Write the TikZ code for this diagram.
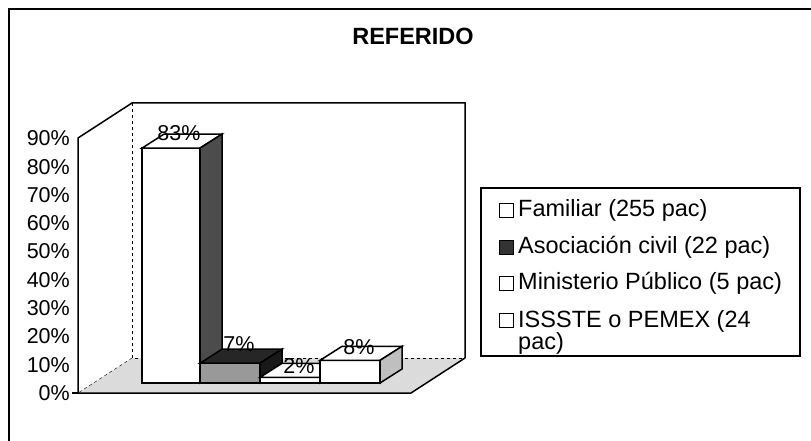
\documentclass[tikz,border=0pt]{standalone}
\usepackage{fontspec}
\setmainfont{Liberation Sans}
\usetikzlibrary{calc}

\tikzset{
  ylab/.style={anchor=east, inner sep=0pt, font=\fontsize{21.5}{24}\selectfont},
  vallab/.style={inner sep=0pt, font=\fontsize{21.5}{24}\selectfont},
  leglab/.style={anchor=west, inner sep=0pt, align=left, font=\fontsize{23.5}{22}\selectfont},
  legmark/.style={draw, line width=1pt, minimum size=14pt, inner sep=0pt},
  edge/.style={line width=1.5pt}
}

% one 3d column: left x, right x, percent, front fill, top fill, side fill
\newcommand{\drawcolumn}[6]{%
  \coordinate (fl) at (#1,383);
  \coordinate (fr) at (#2,383);
  \coordinate (tl) at ($(fl)+(0,-#3*2.83)$);
  \coordinate (tr) at ($(fr)+(0,-#3*2.83)$);
  \filldraw[edge, fill=#4] (fl) rectangle (tr);
  \filldraw[edge, fill=#5] (tl) -- ++(22,-14) -- ($(tr)+(22,-14)$) -- (tr) -- cycle;
  \filldraw[edge, fill=#6] (fr) -- (tr) -- ++(22,-14) -- ($(fr)+(22,-14)$) -- cycle;
}

\begin{document}
\begin{tikzpicture}[x=1pt,y=-1pt]
\useasboundingbox (0,0) rectangle (811,441);

% frame
\draw[line width=2pt] (9,441) -- (9,9) -- (811,9);

% title
\node (title) at (413,36) {\fontsize{23.5}{26}\selectfont\bfseries REFERIDO};

% walls and floor

\coordinate (O) at (78,393);
\coordinate (T) at (78,138);
\coordinate (R) at (411,393);
\coordinate (Ob) at ($(O)+(54,-35)$);
\coordinate (Tb) at ($(T)+(54,-35)$);
\coordinate (Rb) at ($(R)+(54,-35)$);
\coordinate (Rt) at ($(Tb)+(333,0)$);

\fill[black!14] (O) -- (R) -- (Rb) -- (Ob) -- cycle;
\draw[edge] (O) -- (T) -- (Tb) -- (Rt) -- (Rb);
\draw[dashed] (Tb) -- (Ob) -- (Rb);
\draw[dashed] (Ob) -- (O);
\draw[edge] (O) -- (R) -- (Rb);
\draw[edge] (72,393) -- (O);

% axis labels
\node[ylab] (y0) at (70,393) {0\%};
\node[ylab] (y10) at (70,364.7) {10\%};
\node[ylab] (y20) at (70,336.4) {20\%};
\node[ylab] (y30) at (70,308.1) {30\%};
\node[ylab] (y40) at (70,279.8) {40\%};
\node[ylab] (y50) at (70,251.5) {50\%};
\node[ylab] (y60) at (70,223.2) {60\%};
\node[ylab] (y70) at (70,194.9) {70\%};
\node[ylab] (y80) at (70,166.6) {80\%};
\node[ylab] (y90) at (70,138.3) {90\%};

% columns
\drawcolumn{142}{200}{83}{white}{white}{black!70}
\drawcolumn{200}{260}{7}{black!40}{black!85}{black!90}
\drawcolumn{260}{320}{2}{white}{white}{black!30}
\drawcolumn{320}{380}{8}{white}{white}{black!25}

% value labels
\node[vallab] (v1) at (179,133) {83\%};
\node[vallab] (v2) at (239,344) {7\%};
\node[vallab] (v3) at (299,366) {2\%};
\node[vallab] (v4) at (359,347) {8\%};

% legend
\draw[line width=1.2pt] (481,188) rectangle (800,356);
\node[legmark, fill=white] (m1) at (506,210) {};
\node[legmark, fill=black!80] (m2) at (506,247) {};
\node[legmark, fill=white] (m3) at (506,283) {};
\node[legmark, fill=white] (m4) at (506,320) {};
\node[leglab] (l1) at (518,210) {Familiar (255 pac)};
\node[leglab] (l2) at (518,247) {Asociación civil (22 pac)};
\node[leglab] (l3) at (518,283) {Ministerio Público (5 pac)};
\node[leglab, anchor=north west] (l4) at (518,310) {ISSSTE o PEMEX (24\\pac)};

\end{tikzpicture}
\end{document}
